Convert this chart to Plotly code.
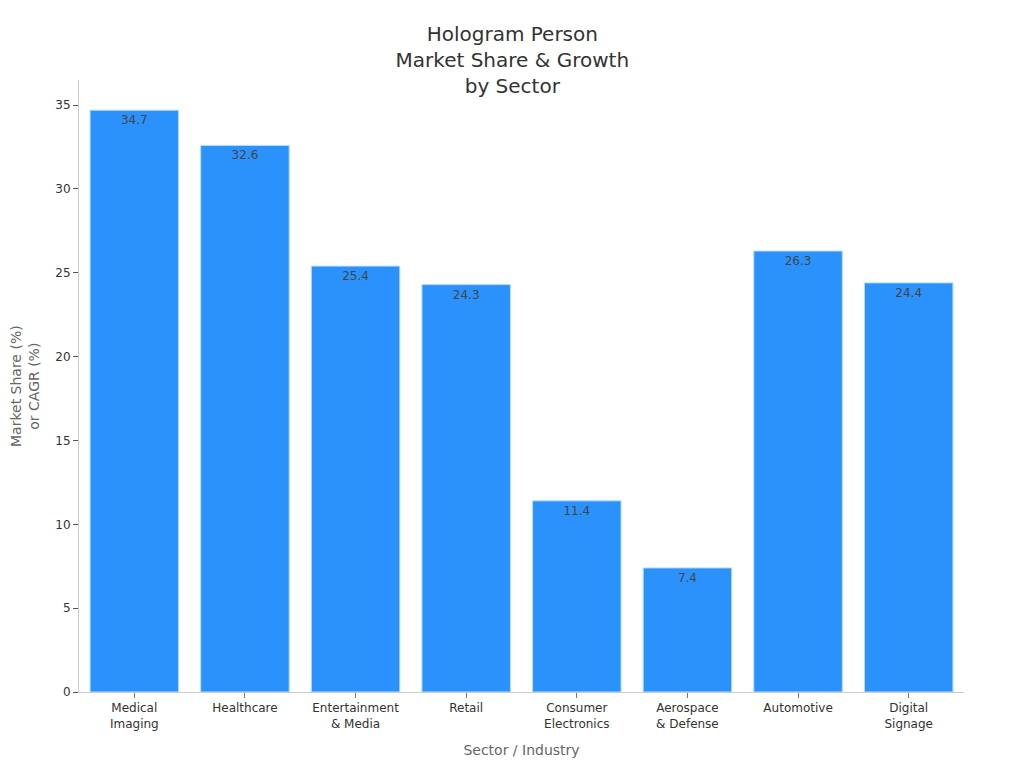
import plotly.graph_objects as go

sectors = ["Medical<br>Imaging", "Healthcare", "Entertainment<br>& Media", "Retail",
           "Consumer<br>Electronics", "Aerospace<br>& Defense", "Automotive", "Digital<br>Signage"]
values = [34.7, 32.6, 25.4, 24.3, 11.4, 7.4, 26.3, 24.4]
y_ticks = [0, 5, 10, 15, 20, 25, 30, 35]

fig = go.Figure()

fig.add_trace(
    go.Bar(
        x=sectors,
        y=values,
        text=[str(v) for v in values],
        textposition="inside",
        insidetextanchor="end",
        textangle=0,
        textfont=dict(size=12, color="#444444"),
        marker=dict(color="#2c92fb", line=dict(color="#b5dcfb", width=1)),
        width=0.8,
    )
)

# the page body adds 8px on the top and left, margins allow for that
fig.update_layout(
    width=1024,
    height=768,
    margin=dict(l=71, r=68, t=72, b=84),
    paper_bgcolor="white",
    plot_bgcolor="white",
    font=dict(family="DejaVu Sans", color="#333333"),
    title=dict(
        text="Hologram Person<br>Market Share & Growth<br>by Sector",
        x=0.4925,
        xanchor="center",
        y=0.957,
        yanchor="top",
        font=dict(size=20, color="#333333"),
    ),
    showlegend=False,
)

fig.update_xaxes(
    title=dict(text="Sector / Industry", font=dict(size=14, color="#666666"), standoff=15),
    tickfont=dict(size=12, color="#333333"),
    showline=True,
    linecolor="#cccccc",
    showgrid=False,
    ticks="outside",
    ticklen=5,
    tickcolor="#777777",
)
fig.update_yaxes(
    automargin=False,
    tickvals=y_ticks,
    range=[0, 36.5],
    tickfont=dict(size=12, color="#333333"),
    showline=True,
    linecolor="#cccccc",
    showgrid=False,
    zeroline=False,
    ticks="outside",
    ticklen=5,
    tickcolor="#555555",
)

# y title as annotation, the axis title can't sit this far out of the margin
fig.add_annotation(
    text="Market Share (%)<br>or CAGR (%)",
    xref="paper",
    yref="paper",
    x=0,
    y=0.5,
    xshift=-73,
    textangle=-90,
    showarrow=False,
    font=dict(size=14, color="#666666"),
)

fig.write_html("out.html")
